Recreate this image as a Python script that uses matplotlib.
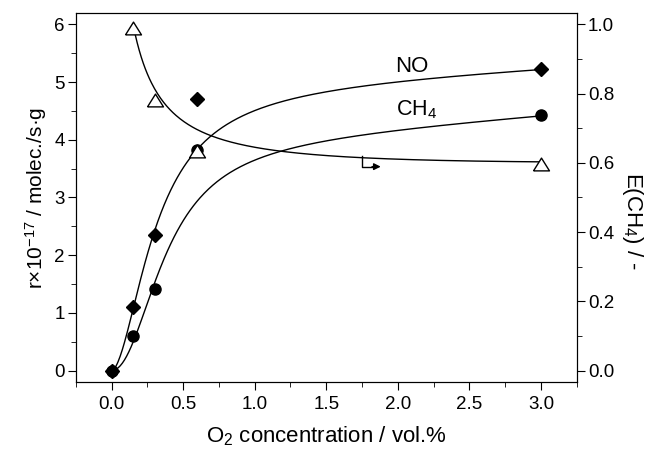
import numpy as np
import matplotlib
matplotlib.use("Agg")
import matplotlib.pyplot as plt
from matplotlib.ticker import MultipleLocator

plt.rcParams["font.family"] = ["Liberation Sans", "DejaVu Sans"]
plt.rcParams["mathtext.fontset"] = "custom"
plt.rcParams["mathtext.rm"] = "Liberation Sans"
plt.rcParams["mathtext.it"] = "Liberation Sans:italic"
plt.rcParams["mathtext.default"] = "regular"

# measured points
o2 = [0.0, 0.15, 0.3, 0.6, 3.0]
no_rate = [0.0, 1.1, 2.35, 4.7, 5.23]
ch4_rate = [0.0, 0.6, 1.42, 3.83, 4.42]
o2_e = [0.15, 0.3, 0.6, 3.0]
e_ch4 = [0.988, 0.78, 0.635, 0.596]

# points
no_curve_x = [0.0, 0.15, 0.3, 0.6, 0.81, 1.01, 1.28, 1.74, 3.0]
no_curve_y = [0.0, 1.1, 2.35, 3.87, 4.33, 4.51, 4.68, 4.90, 5.23]
ch4_curve_x = [0.0, 0.15, 0.3, 0.58, 0.77, 1.01, 1.28, 1.74, 3.0]
ch4_curve_y = [0.0, 0.6, 1.42, 2.95, 3.35, 3.64, 3.84, 4.07, 4.42]
e_curve_x = [0.15, 0.23, 0.3, 0.35, 0.46, 0.58, 0.7, 1.01, 1.51, 1.74, 3.0]
e_curve_y = [0.985, 0.907, 0.83, 0.77, 0.713, 0.689, 0.674, 0.65, 0.631, 0.622, 0.596]


def hill_fit(x, y):
    # grid over n and k, linear solve for amplitude and a slow linear rise
    x = np.asarray(x)
    y = np.asarray(y)
    best = None
    for n in np.linspace(1.0, 3.5, 51):
        for k in np.linspace(0.1, 1.2, 111):
            g = x**n / (k**n + x**n)
            A = np.column_stack([g, x])
            coef, *_ = np.linalg.lstsq(A, y, rcond=None)
            err = np.sum((A @ coef - y) ** 2)
            if best is None or err < best[0]:
                best = (err, coef, n, k)
    _, (a, b), n, k = best
    return lambda t: a * t**n / (k**n + t**n) + b * t


def decay_fit(x, y):
    x = np.asarray(x)
    y = np.asarray(y)
    best = None
    for p in np.linspace(0.3, 4.0, 75):
        for t0 in np.linspace(-0.1, 0.12, 45):
            A = np.column_stack([np.ones_like(x), (x - t0) ** -p, x])
            coef, *_ = np.linalg.lstsq(A, y, rcond=None)
            err = np.sum((A @ coef - y) ** 2)
            if best is None or err < best[0]:
                best = (err, coef, p, t0)
    _, coef, p, t0 = best
    return lambda t: coef[0] + coef[1] * (t - t0) ** -p + coef[2] * t


no_f = hill_fit(no_curve_x, no_curve_y)
ch4_f = hill_fit(ch4_curve_x, ch4_curve_y)
e_f = decay_fit(e_curve_x, e_curve_y)

fig, ax = plt.subplots(figsize=(6.48, 4.55), dpi=100)
fig.subplots_adjust(left=0.117, right=0.89, top=0.972, bottom=0.16)
ax2 = ax.twinx()

xs = np.linspace(0, 3.0, 400)
ax.plot(xs, no_f(xs), color="black", lw=1)
ax.plot(xs, ch4_f(xs), color="black", lw=1)
xe = np.linspace(0.15, 3.0, 400)
ax2.plot(xe, e_f(xe), color="black", lw=1)

tri = [(-1, -0.8), (1, -0.8), (0, 0.8), (-1, -0.8)]
ax.plot(o2, no_rate, "D", color="black", ms=7.6, zorder=5)
ax.plot(o2, ch4_rate, "o", color="black", ms=8, zorder=4)
ax2.plot(o2_e, e_ch4, marker=tri, ls="none", mfc="white", mec="black",
         ms=11.5, mew=1, zorder=5)

ax.text(1.98, 5.18, "NO", fontsize=16, ha="left", va="baseline")
ax.text(1.99, 4.42, "CH$_4$", fontsize=15.5, ha="left", va="baseline")

# arrow marking the right-axis curve
ax2.plot([1.75, 1.75, 1.82], [0.621, 0.589, 0.589], color="black", lw=1)
ax2.annotate("", xy=(1.9, 0.589), xytext=(1.8, 0.589),
             arrowprops=dict(arrowstyle="-|>", color="black", lw=1,
                             mutation_scale=10))

ax.set_xlim(-0.25, 3.25)
ax.set_ylim(-0.2, 6.2)
ax2.set_ylim(-0.2 / 6, 6.2 / 6)

ax.xaxis.set_major_locator(MultipleLocator(0.5))
ax.xaxis.set_minor_locator(MultipleLocator(0.25))
ax.yaxis.set_major_locator(MultipleLocator(1))
ax.yaxis.set_minor_locator(MultipleLocator(0.5))
ax2.yaxis.set_major_locator(MultipleLocator(0.2))
ax2.yaxis.set_minor_locator(MultipleLocator(0.1))
ax.xaxis.set_major_formatter(plt.FormatStrFormatter("%.1f"))
ax2.yaxis.set_major_formatter(plt.FormatStrFormatter("%.1f"))

for a in (ax, ax2):
    a.tick_params(which="major", direction="out", length=6, labelsize=13.5)
    a.tick_params(which="minor", direction="out", length=3.5)
ax.tick_params(axis="y", which="major", pad=2)
ax2.tick_params(axis="y", which="major", pad=2)
ax.tick_params(axis="x", which="major", pad=4)
ax.tick_params(top=False, right=False)

ax.set_xlabel("O$_2$ concentration / vol.%", fontsize=16, labelpad=8)
ax.set_ylabel("r\u00d710$^{-17}$ / molec./s\u00b7g", fontsize=15, labelpad=4)
ax2.set_ylabel("E(CH$_4$) / -", fontsize=16, rotation=270)
ax2.yaxis.set_label_coords(1.137, 0.435)

plt.savefig("out.png", dpi=100)
